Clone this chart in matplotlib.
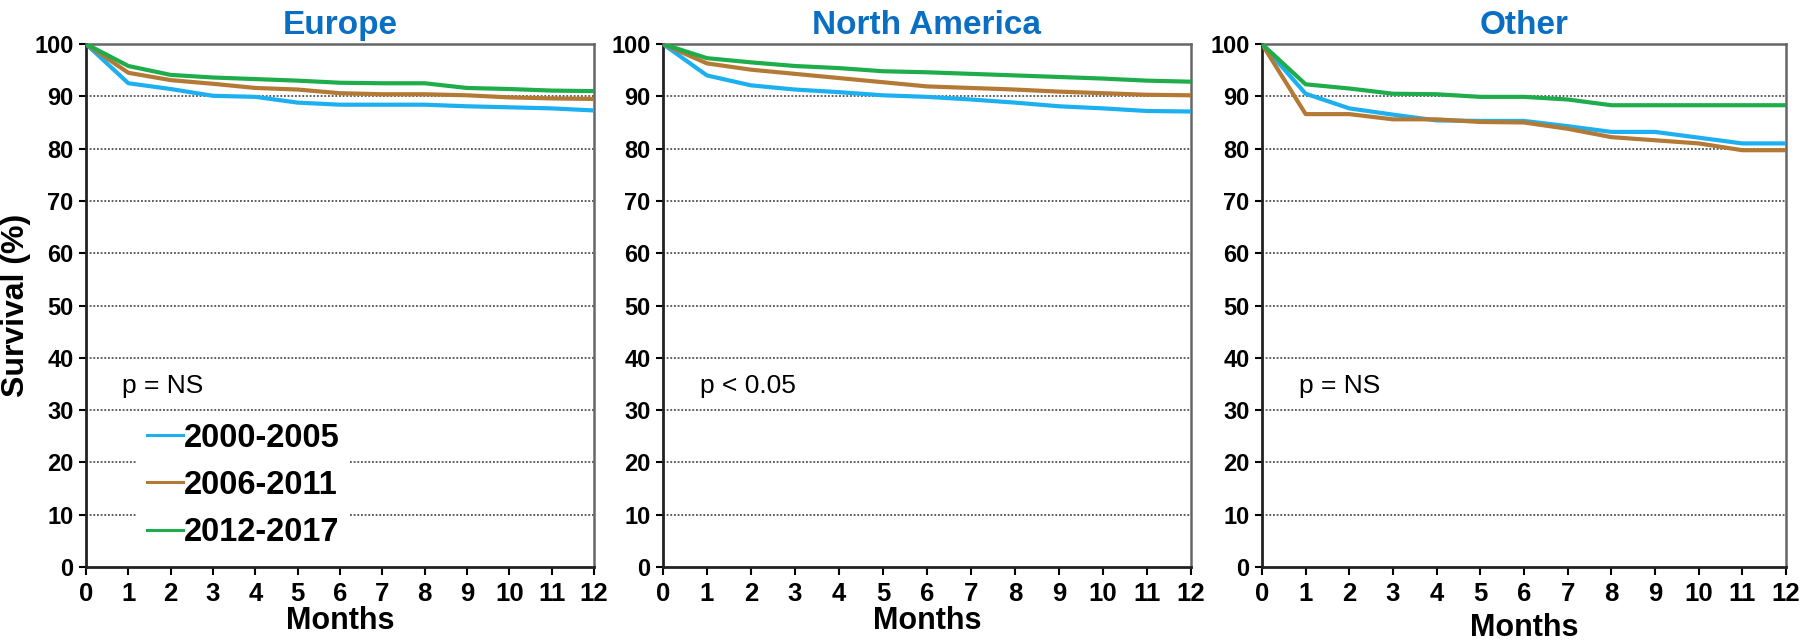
import matplotlib.pyplot as plt
import numpy as np

plt.rcParams['font.family'] = ['Liberation Sans', 'DejaVu Sans']

# data
months = list(range(13))
regions = ["Europe", "North America", "Other"]
periods = ["2000-2005", "2006-2011", "2012-2017"]
colors = ["#1CB0F0", "#B47A35", "#1EAD4A"]
p_labels = ["p = NS", "p < 0.05", "p = NS"]

europe_0005 = [100, 92.5, 91.4, 90.1, 89.9, 88.8, 88.4, 88.4, 88.4, 88.1, 87.9, 87.7, 87.3]
europe_0611 = [100, 94.5, 93.1, 92.4, 91.6, 91.3, 90.6, 90.4, 90.4, 90.2, 89.8, 89.6, 89.5]
europe_1217 = [100, 95.8, 94.1, 93.6, 93.3, 93.0, 92.6, 92.5, 92.5, 91.6, 91.4, 91.1, 91.0]

namer_0005 = [100, 94.0, 92.1, 91.3, 90.8, 90.2, 89.9, 89.4, 88.8, 88.1, 87.7, 87.2, 87.1]
namer_0611 = [100, 96.3, 95.1, 94.3, 93.5, 92.7, 91.9, 91.6, 91.3, 90.9, 90.6, 90.3, 90.2]
namer_1217 = [100, 97.3, 96.5, 95.8, 95.4, 94.8, 94.6, 94.3, 94.0, 93.7, 93.4, 93.0, 92.8]

other_0005 = [100, 90.5, 87.7, 86.5, 85.4, 85.3, 85.3, 84.3, 83.2, 83.2, 82.1, 81.0, 81.0]
other_0611 = [100, 86.6, 86.6, 85.6, 85.6, 85.1, 85.0, 83.8, 82.2, 81.6, 81.0, 79.7, 79.7]
other_1217 = [100, 92.3, 91.5, 90.5, 90.4, 89.9, 89.9, 89.4, 88.3, 88.3, 88.3, 88.3, 88.3]

curves = [
    [europe_0005, europe_0611, europe_1217],
    [namer_0005, namer_0611, namer_1217],
    [other_0005, other_0611, other_1217],
]

fig = plt.figure(figsize=(18, 6.42), dpi=100, facecolor="white")

# panel placement (figure fractions)
lefts = [0.0478, 0.3683, 0.7011]
widths = [0.2822, 0.2933, 0.2911]
xlabel_pads = [0, 0, 5]

for i, region in enumerate(regions):
    ax = fig.add_axes([lefts[i], 0.1168, widths[i], 0.8146])

    # dotted grid
    for yv in range(10, 100, 10):
        ax.axhline(yv, color="#333333", lw=1.1, ls=(0, (1.2, 1.2)), zorder=1)

    for j, period in enumerate(periods):
        ax.plot(months, curves[i][j], color=colors[j], lw=3, label=period, zorder=3 + j)

    ax.set_xlim(0, 12)
    ax.set_ylim(0, 100)
    ax.set_xticks(months)
    ax.set_yticks(range(0, 101, 10))
    ax.tick_params(axis="x", labelsize=18.5, length=6, width=1.5, direction="out", pad=5)
    ax.tick_params(axis="y", labelsize=17, length=5, width=1.5, direction="out", pad=4)
    for lab in ax.get_xticklabels() + ax.get_yticklabels():
        lab.set_fontweight("bold")

    for s in ["left", "bottom"]:
        ax.spines[s].set_linewidth(2)
        ax.spines[s].set_color("#222222")
    for s in ["top", "right"]:
        ax.spines[s].set_linewidth(1.8)
        ax.spines[s].set_color("#666666")

    ax.set_title(region, fontsize=24, fontweight="bold", color="#0A6FC2", pad=7)
    ax.set_xlabel("Months", fontsize=22, fontweight="bold", labelpad=xlabel_pads[i])
    if i == 0:
        ax.set_ylabel("Survival (%)", fontsize=23, fontweight="bold", labelpad=2)
        leg = ax.legend(loc="upper left", bbox_to_anchor=(0.1, 0.295),
                        prop={"weight": "bold", "size": 23.5},
                        handlelength=1.1, handletextpad=0.05, labelspacing=0.5,
                        frameon=True, facecolor="white", edgecolor="none",
                        framealpha=1, borderpad=0.3, borderaxespad=0)
        for h in leg.get_lines():
            h.set_linewidth(2.2)
        leg.set_zorder(5)

    ax.text(0.85, 34.6, p_labels[i], fontsize=19, va="center", ha="left", zorder=6)

fig.savefig("out.png", dpi=100)
